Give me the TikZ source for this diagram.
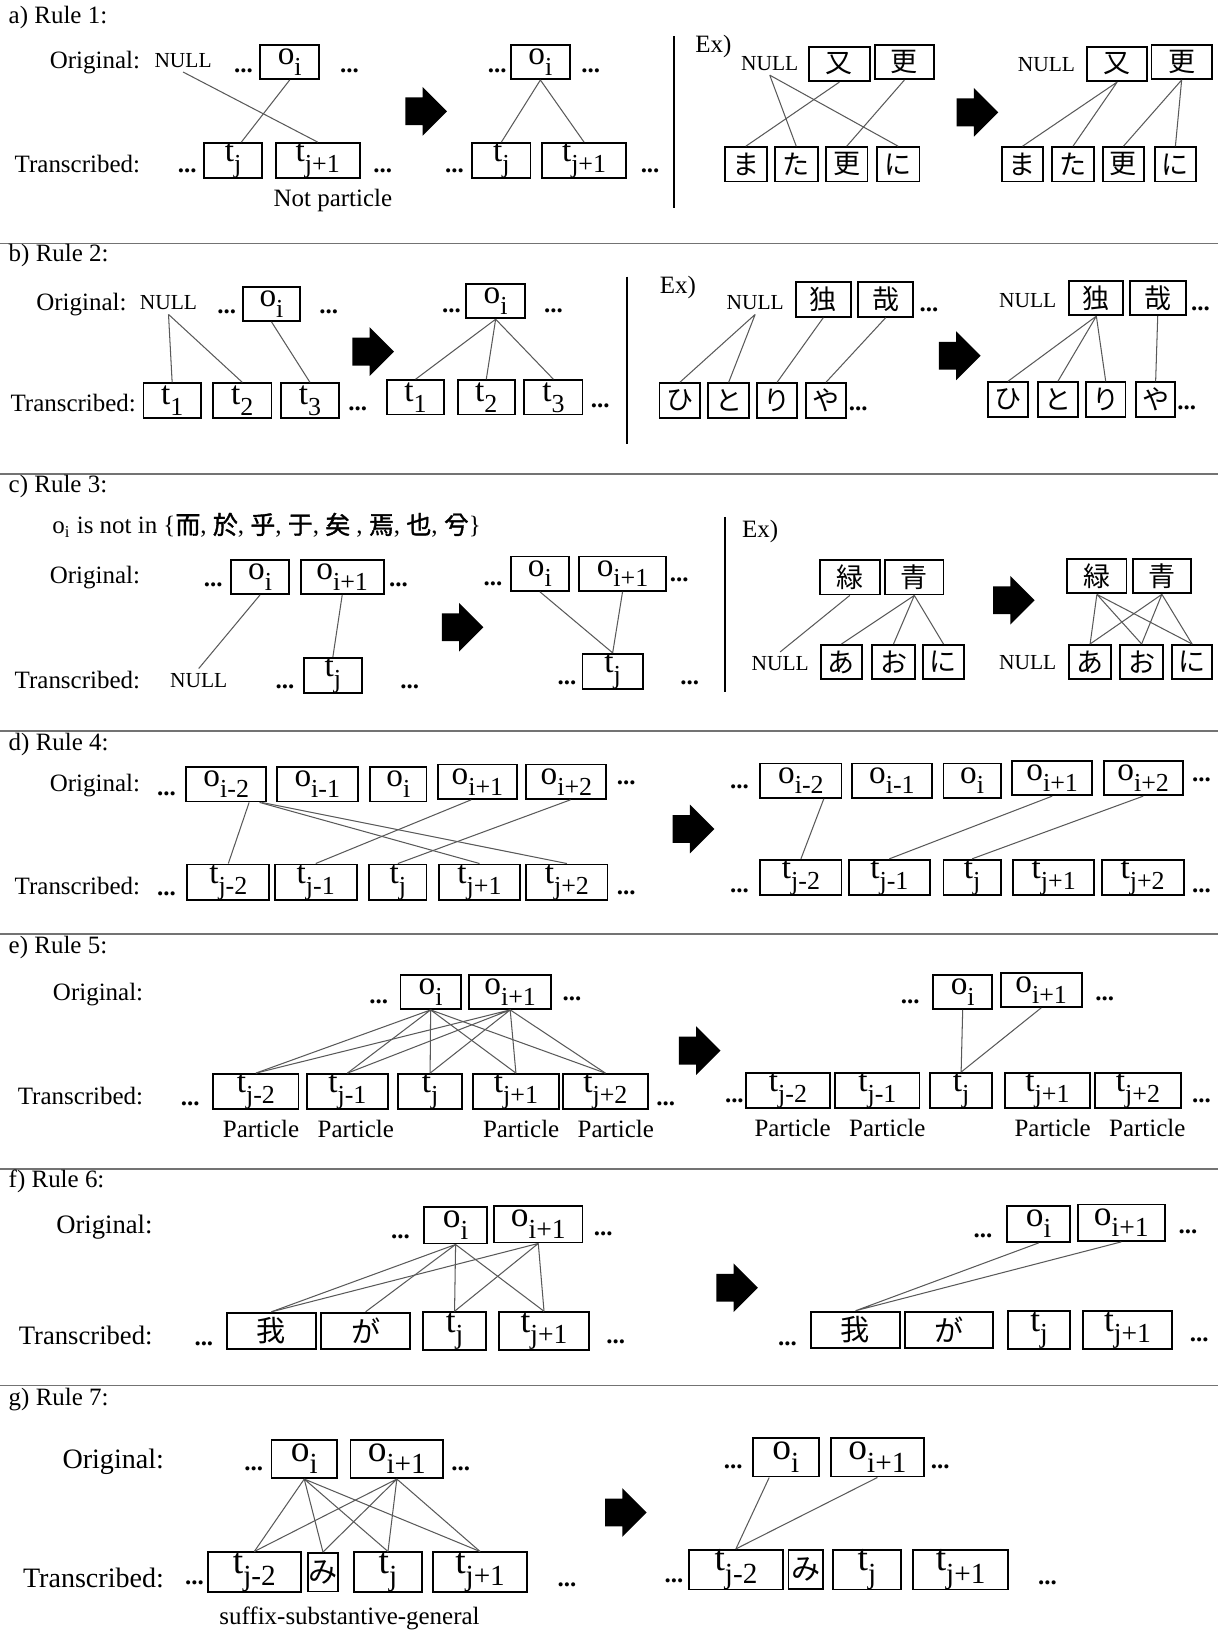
\documentclass[tikz,border=0pt]{standalone}
\usepackage{fontspec}
\setmainfont{Liberation Serif}
\newfontfamily\jpfont{Noto Sans CJK JP}
\newfontfamily\jpbold{Noto Sans CJK JP}[FakeBold=1.5]
\usetikzlibrary{shapes.arrows}

\makeatletter
\newcommand{\idx}[2]{#1\raisebox{-0.33em}{\fontsize{\strip@pt\dimexpr0.78\dimexpr\f@size pt\relax\relax}{1}\selectfont #2}}
\makeatother

\begin{document}
\begin{tikzpicture}[x=0.5pt, y=-0.5pt,
  tok/.style={draw, line width=0.9pt, minimum width=#1, minimum height=16.5pt, inner sep=0pt, font=\fontsize{16}{16}\selectfont},
  kana/.style={draw, line width=0.9pt, minimum width=#1, minimum height=16.5pt, inner sep=0pt, font=\jpfont\fontsize{13}{13}\selectfont},
  lbl/.style={inner sep=0pt, font=\fontsize{12}{14}\selectfont},
  ttl/.style={anchor=west, inner sep=0pt, font=\fontsize{12}{14}\selectfont},
  nul/.style={inner sep=2pt, font=\fontsize{10.3}{12}\selectfont},
  ellip/.style={inner sep=0pt, font=\fontsize{12}{12}\selectfont\bfseries},
  link/.style={draw=black!65, line width=0.5pt},
  bigarrow/.style={single arrow, fill=black, minimum height=20pt, inner xsep=0pt, inner ysep=6.5pt, single arrow head extend=5pt},
  rulebar/.style={draw=black!55, line width=0.8pt},
  vbar/.style={draw=black, line width=0.8pt}
]
\useasboundingbox (0,0) rectangle (1171,1568);

% a) Rule 1
\node[ttl] (ttlA) at (8,17) {a) Rule 1:};
\node[lbl, anchor=east] (origA) at (135,60) {Original:};
\node[lbl, anchor=east] (transA) at (135,158) {Transcribed:};
\node[nul] (alNull) at (176,58) {NULL};
\node[ellip] (alD1) at (234,68) {...};
\node[tok=28.5pt] (alOi) at (278.5,59.5) {\idx{o}{i}};
\node[ellip] (alD2) at (336,68) {...};
\node[ellip] (alD3) at (180,164) {...};
\node[tok=28pt] (alTj) at (224,154.5) {\idx{t}{j}};
\node[tok=40.5pt] (alTj1) at (305.5,154.5) {\idx{t}{j+1}};
\node[ellip] (alD4) at (368,164) {...};
\node[lbl] (notPart) at (320,193) {Not particle};
\draw[link] (alNull.south) -- (alTj1.north);
\draw[link] (alOi.south) -- ([xshift=4pt]alTj.north);
\node[bigarrow] (arrA) at (403,107) {};
\node[ellip] (arD1) at (478,68) {...};
\node[tok=28.5pt] (arOi) at (519.5,59.5) {\idx{o}{i}};
\node[ellip] (arD2) at (568,68) {...};
\node[ellip] (arD3) at (437,164) {...};
\node[tok=28pt] (arTj) at (482,154.5) {\idx{t}{j}};
\node[tok=40.5pt] (arTj1) at (561.5,154.5) {\idx{t}{j+1}};
\node[ellip] (arD4) at (625,164) {...};
\draw[link] (arOi.south) -- (arTj.north) (arOi.south) -- (arTj1.north);
\draw[vbar] (648,35) -- (648,200);

% a) example
\node[lbl, anchor=west] (axEx) at (668,45) {Ex)};
\node[nul] (axNull) at (740,61) {NULL};
\node[kana=29pt] (axMata) at (807,61.5) {又};
\node[kana=28.5pt] (axSara) at (869.5,59.5) {更};
\node[kana=20pt] (axMa) at (717,158) {ま};
\node[kana=20.5pt] (axTa) at (765.5,158) {た};
\node[kana=20pt] (axSa) at (814,158) {更};
\node[kana=20.5pt] (axNi) at (863.5,158) {に};
\draw[link] (axNull.south) -- (axTa.north) (axNull.south) -- (axNi.north);
\draw[link] (axMata.south) -- (axMa.north);
\draw[link] (axSara.south) -- (axSa.north);
\node[bigarrow] (arrAx) at (933,108) {};
\node[nul] (ayNull) at (1006,62) {NULL};
\node[kana=29pt] (ayMata) at (1074,61.5) {又};
\node[kana=29pt] (aySara) at (1136,59.5) {更};
\node[kana=20pt] (ayMa) at (983,158) {ま};
\node[kana=20.5pt] (ayTa) at (1031.5,158) {た};
\node[kana=20pt] (aySa) at (1080,158) {更};
\node[kana=20pt] (ayNi) at (1130,158) {に};
\draw[link] (ayMata.south) -- (ayMa.north) (ayMata.south) -- (ayTa.north);
\draw[link] (aySara.south) -- (aySa.north) (aySara.south) -- (ayNi.north);

\draw[rulebar] (0,234) -- (1171,234);

% b) Rule 2
\node[ttl] (ttlB) at (8,246) {b) Rule 2:};
\node[lbl, anchor=east] (origB) at (122,293) {Original:};
\node[lbl, anchor=east] (transB) at (131,387) {Transcribed:};
\node[nul] (blNull) at (162,291) {NULL};
\node[ellip] (blD1) at (218,300) {...};
\node[tok=27pt] (blOi) at (261,292) {\idx{o}{i}};
\node[ellip] (blD2) at (316,300) {...};
\node[tok=27.5pt] (blT1) at (165.5,385) {\idx{t}{1}};
\node[tok=28pt] (blT2) at (233,385) {\idx{t}{2}};
\node[tok=28pt] (blT3) at (298,385) {\idx{t}{3}};
\node[ellip] (blD3) at (344,393) {...};
\draw[link] (blNull.south) -- (blT1.north) (blNull.south) -- (blT2.north);
\draw[link] (blOi.south) -- (blT3.north);
\node[bigarrow] (arrB) at (352,338) {};
\node[ellip] (brD1) at (434,299) {...};
\node[tok=28.5pt] (brOi) at (476.5,289.5) {\idx{o}{i}};
\node[ellip] (brD2) at (532,299) {...};
\node[tok=27.5pt] (brT1) at (399.5,382) {\idx{t}{1}};
\node[tok=27.5pt] (brT2) at (467.5,382) {\idx{t}{2}};
\node[tok=28pt] (brT3) at (532,382) {\idx{t}{3}};
\node[ellip] (brD3) at (577,390) {...};
\draw[link] (brOi.south) -- (brT1.north) (brOi.south) -- (brT2.north) (brOi.south) -- (brT3.north);
\draw[vbar] (603,266) -- (603,427);

% b) example
\node[lbl, anchor=west] (bxEx) at (634,276) {Ex)};
\node[nul] (bxNull) at (726,291) {NULL};
\node[kana=26.5pt] (bxDoku) at (791.5,288) {独};
\node[kana=26.5pt] (bxKana) at (851.5,288) {哉};
\node[ellip] (bxD1) at (893,298) {...};
\node[kana=19.5pt] (bxHi) at (653.5,385) {ひ};
\node[kana=19.5pt] (bxTo) at (700.5,385) {と};
\node[kana=19pt] (bxRi) at (747,385) {り};
\node[kana=19pt] (bxYa) at (794,385) {や};
\node[ellip] (bxD2) at (825,393) {...};
\draw[link] (bxNull.south) -- (bxHi.north) (bxNull.south) -- (bxTo.north);
\draw[link] (bxDoku.south) -- (bxRi.north);
\draw[link] (bxKana.south) -- (bxYa.north);
\node[bigarrow] (arrBx) at (916,342) {};
\node[nul] (byNull) at (988,289) {NULL};
\node[kana=26pt] (byDoku) at (1054,286.5) {独};
\node[kana=27pt] (byKana) at (1113,286.5) {哉};
\node[ellip] (byD1) at (1154,297) {...};
\node[kana=19pt] (byHi) at (969,384) {ひ};
\node[kana=19pt] (byTo) at (1017,384) {と};
\node[kana=19pt] (byRi) at (1063,384) {り};
\node[kana=19pt] (byYa) at (1111,384) {や};
\node[ellip] (byD2) at (1141,392) {...};
\draw[link] (byDoku.south) -- (byHi.north) (byDoku.south) -- (byTo.north) (byDoku.south) -- (byRi.north);
\draw[link] (byKana.south) -- (byYa.north);

\draw[rulebar] (0,456) -- (1171,456);

% c) Rule 3
\node[ttl] (ttlC) at (8,468) {c) Rule 3:};
\node[lbl, anchor=west] (cCond) at (50,505) {o\textsubscript{i} is not in \{{\jpbold 而}, {\jpbold 於}, {\jpbold 乎}, {\jpbold 于}, {\jpbold 矣} , {\jpbold 焉}, {\jpbold 也}, {\jpbold 兮}\}};
\node[lbl, anchor=east] (origC) at (135,555) {Original:};
\node[lbl, anchor=east] (transC) at (135,654) {Transcribed:};
\node[ellip] (clD1) at (205,562) {...};
\node[tok=28pt] (clOi) at (250,554.5) {\idx{o}{i}};
\node[tok=40pt] (clOi1) at (329,554.5) {\idx{o}{i+1}};
\node[ellip] (clD2) at (383,562) {...};
\node[nul] (clNull) at (191,654) {NULL};
\node[ellip] (clD3) at (274,660) {...};
\node[tok=28pt] (clTj) at (320,649.5) {\idx{t}{j}};
\node[ellip] (clD4) at (394,660) {...};
\draw[link] (clOi.south) -- (clNull.north);
\draw[link] (clOi1.south) -- (clTj.north);
\node[bigarrow] (arrC) at (438,603) {};
\node[ellip] (crD1) at (474,561) {...};
\node[tok=28pt] (crOi) at (519,551.5) {\idx{o}{i}};
\node[tok=41.5pt] (crOi1) at (598.5,551.5) {\idx{o}{i+1}};
\node[ellip] (crD2) at (653,557) {...};
\node[ellip] (crD3) at (545,656) {...};
\node[tok=29pt] (crTj) at (589,645.5) {\idx{t}{j}};
\node[ellip] (crD4) at (663,656) {...};
\draw[link] (crOi.south) -- (crTj.north) (crOi1.south) -- (crTj.north);
\draw[vbar] (697,497) -- (697,665);

% c) example
\node[lbl, anchor=west] (cxEx) at (713,511) {Ex)};
\node[kana=29pt] (cxMidori) at (817,555) {緑};
\node[kana=28pt] (cxAo) at (879,555) {青};
\node[nul] (cxNull) at (750,638) {NULL};
\node[kana=20pt] (cxA) at (809,636.5) {あ};
\node[kana=21pt] (cxO) at (859,636.5) {お};
\node[kana=20pt] (cxNi) at (907,636.5) {に};
\draw[link] (cxMidori.south) -- (cxNull.north);
\draw[link] (cxAo.south) -- (cxA.north) (cxAo.south) -- (cxO.north) (cxAo.south) -- (cxNi.north);
\node[bigarrow] (arrCx) at (968,577) {};
\node[kana=28.5pt] (cyMidori) at (1054.5,554) {緑};
\node[kana=28pt] (cyAo) at (1117,554) {青};
\node[nul] (cyNull) at (988,637) {NULL};
\node[kana=20pt] (cyA) at (1048,636.5) {あ};
\node[kana=20.5pt] (cyO) at (1097.5,636.5) {お};
\node[kana=19pt] (cyNi) at (1146,636.5) {に};
\draw[link] (cyMidori.south) -- (cyA.north) (cyMidori.south) -- (cyO.north) (cyMidori.south) -- (cyNi.north);
\draw[link] (cyAo.south) -- (cyA.north) (cyAo.south) -- (cyO.north) (cyAo.south) -- (cyNi.north);

\draw[rulebar] (0,703) -- (1171,703);

% d) Rule 4
\node[ttl] (ttlD) at (8,716) {d) Rule 4:};
\node[lbl, anchor=east] (origD) at (135,755) {Original:};
\node[lbl, anchor=east] (transD) at (135,852) {Transcribed:};
\node[ellip] (dlD1) at (160,763) {...};
\node[tok=38.5pt] (dlOm2) at (217.5,754) {\idx{o}{i-2}};
\node[tok=39pt] (dlOm1) at (305,754) {\idx{o}{i-1}};
\node[tok=27pt] (dlOi) at (383,754) {\idx{o}{i}};
\node[tok=38pt] (dlOp1) at (459,751.5) {\idx{o}{i+1}};
\node[tok=38.5pt] (dlOp2) at (544.5,751.5) {\idx{o}{i+2}};
\node[ellip] (dlD2) at (602,753) {...};
\node[ellip] (dlD3) at (160,859) {...};
\node[tok=39.5pt] (dlTm2) at (219.5,848) {\idx{t}{j-2}};
\node[tok=39.5pt] (dlTm1) at (303.5,848) {\idx{t}{j-1}};
\node[tok=27.5pt] (dlTj) at (382.5,848) {\idx{t}{j}};
\node[tok=39pt] (dlTp1) at (461,848) {\idx{t}{j+1}};
\node[tok=39pt] (dlTp2) at (545,848) {\idx{t}{j+2}};
\node[ellip] (dlD4) at (602,858) {...};
\draw[link] ([xshift=11pt]dlOm2.south) -- (dlTm2.north);
\draw[link] ([xshift=16pt]dlOm2.south) -- (dlTp1.north);
\draw[link] ([xshift=17pt]dlOm2.south) -- (dlTp2.north);
\draw[link] ([xshift=-3pt]dlOp1.south) -- (dlTm1.north);
\draw[link] ([xshift=2pt]dlOp2.south) -- (dlTj.north);
\node[bigarrow] (arrD) at (660,797) {};
\node[ellip] (drD1) at (711,756) {...};
\node[tok=39pt] (drOm2) at (770,750.5) {\idx{o}{i-2}};
\node[tok=38.5pt] (drOm1) at (857.5,750.5) {\idx{o}{i-1}};
\node[tok=27.5pt] (drOi) at (934.5,750.5) {\idx{o}{i}};
\node[tok=38.5pt] (drOp1) at (1011.5,748) {\idx{o}{i+1}};
\node[tok=38pt] (drOp2) at (1099,748) {\idx{o}{i+2}};
\node[ellip] (drD2) at (1155,750) {...};
\node[ellip] (drD3) at (711,856) {...};
\node[tok=39pt] (drTm2) at (770,843.5) {\idx{t}{j-2}};
\node[tok=39pt] (drTm1) at (855,843.5) {\idx{t}{j-1}};
\node[tok=27.5pt] (drTj) at (934.5,843.5) {\idx{t}{j}};
\node[tok=39pt] (drTp1) at (1013,843.5) {\idx{t}{j+1}};
\node[tok=39.5pt] (drTp2) at (1098.5,843.5) {\idx{t}{j+2}};
\node[ellip] (drD4) at (1155,856) {...};
\draw[link] ([xshift=11pt]drOm2.south) -- (drTm2.north);
\draw[link] (drOp1.south) -- (drTm1.north);
\draw[link] (drOp2.south) -- (drTj.north);

\draw[rulebar] (0,898) -- (1171,898);

% e) Rule 5
\node[ttl] (ttlE) at (8,911) {e) Rule 5:};
\node[lbl, anchor=east] (origE) at (138,956) {Original:};
\node[lbl, anchor=east] (transE) at (138,1054) {Transcribed:};
\node[ellip] (elD1) at (364,963) {...};
\node[tok=29pt] (elOi) at (414,953.5) {\idx{o}{i}};
\node[tok=39.5pt] (elOi1) at (490.5,953.5) {\idx{o}{i+1}};
\node[ellip] (elD2) at (550,960) {...};
\node[ellip] (elD3) at (183,1061) {...};
\node[tok=41pt] (elTm2) at (246,1049.5) {\idx{t}{j-2}};
\node[tok=39pt] (elTm1) at (334,1049.5) {\idx{t}{j-1}};
\node[tok=30.5pt] (elTj) at (413.5,1049.5) {\idx{t}{j}};
\node[tok=41pt] (elTp1) at (496,1049.5) {\idx{t}{j+1}};
\node[tok=41pt] (elTp2) at (582,1049.5) {\idx{t}{j+2}};
\node[ellip] (elD4) at (640,1061) {...};
\node[lbl] (elP1) at (251,1085) {Particle};
\node[lbl] (elP2) at (342,1085) {Particle};
\node[lbl] (elP3) at (501,1085) {Particle};
\node[lbl] (elP4) at (592,1085) {Particle};
\draw[link] (elOi.south) -- (elTm2.north) (elOi.south) -- (elTm1.north) (elOi.south) -- (elTj.north) (elOi.south) -- (elTp1.north) (elOi.south) -- (elTp2.north);
\draw[link] (elOi1.south) -- (elTm2.north) (elOi1.south) -- (elTm1.north) (elOi1.south) -- (elTj.north) (elOi1.south) -- (elTp1.north) (elOi1.south) -- (elTp2.north);
\node[bigarrow] (arrE) at (666,1010) {};
\node[ellip] (erD1) at (875,963) {...};
\node[tok=28.5pt] (erOi) at (925.5,953.5) {\idx{o}{i}};
\node[tok=39pt] (erOi1) at (1001,951.5) {\idx{o}{i+1}};
\node[ellip] (erD2) at (1062,960) {...};
\node[ellip] (erD3) at (706,1058) {...};
\node[tok=40.5pt] (erTm2) at (757.5,1048.5) {\idx{t}{j-2}};
\node[tok=40.5pt] (erTm1) at (843.5,1048.5) {\idx{t}{j-1}};
\node[tok=30pt] (erTj) at (924,1048.5) {\idx{t}{j}};
\node[tok=41pt] (erTp1) at (1007,1048.5) {\idx{t}{j+1}};
\node[tok=41pt] (erTp2) at (1094,1048.5) {\idx{t}{j+2}};
\node[ellip] (erD4) at (1155,1058) {...};
\node[lbl] (erP1) at (762,1084) {Particle};
\node[lbl] (erP2) at (853,1084) {Particle};
\node[lbl] (erP3) at (1012,1084) {Particle};
\node[lbl] (erP4) at (1103,1084) {Particle};
\draw[link] (erOi.south) -- (erTj.north) (erOi1.south) -- (erTj.north);

\draw[rulebar] (0,1124) -- (1171,1124);

% f) Rule 6
\begin{scope}[tok/.append style={minimum height=17.5pt, font=\fontsize{17}{17}\selectfont},
  kana/.append style={minimum height=17.5pt, font=\jpfont\fontsize{14}{14}\selectfont},
  lbl/.append style={font=\fontsize{12.8}{15}\selectfont}]
\node[ttl] (ttlF) at (8,1136) {f) Rule 6:};
\node[lbl, anchor=east] (origF) at (147,1180) {Original:};
\node[lbl, anchor=east] (transF) at (147,1284) {Transcribed:};
\node[ellip] (flD1) at (385,1189) {...};
\node[tok=30pt] (flOi) at (438,1178) {\idx{o}{i}};
\node[tok=42.5pt] (flOi1) at (517.5,1177) {\idx{o}{i+1}};
\node[ellip] (flD2) at (580,1186) {...};
\node[ellip] (flD3) at (196,1292) {...};
\node[kana=43pt] (flWa) at (261,1279.5) {我};
\node[kana=42.5pt] (flGa) at (351.5,1279.5) {が};
\node[tok=30pt] (flTj) at (437,1279.5) {\idx{t}{j}};
\node[tok=43pt] (flTj1) at (523,1279.5) {\idx{t}{j+1}};
\node[ellip] (flD4) at (592,1290) {...};
\draw[link] (flOi.south) -- (flWa.north) (flOi.south) -- (flGa.north) (flOi.south) -- (flTj.north) (flOi.south) -- (flTj1.north);
\draw[link] (flOi1.south) -- (flWa.north) (flOi1.south) -- (flTj.north) (flOi1.south) -- (flTj1.north);
\node[bigarrow] (arrF) at (702,1238) {};
\node[ellip] (frD1) at (945,1188) {...};
\node[tok=30.5pt] (frOi) at (998.5,1176.5) {\idx{o}{i}};
\node[tok=42pt] (frOi1) at (1078,1175.5) {\idx{o}{i+1}};
\node[ellip] (frD2) at (1142,1184) {...};
\node[ellip] (frD3) at (757,1292) {...};
\node[kana=42.5pt] (frWa) at (822.5,1278.5) {我};
\node[kana=42.5pt] (frGa) at (912.5,1278.5) {が};
\node[tok=30pt] (frTj) at (999,1278.5) {\idx{t}{j}};
\node[tok=43pt] (frTj1) at (1084,1278.5) {\idx{t}{j+1}};
\node[ellip] (frD4) at (1153,1288) {...};
\draw[link] (frOi.south) -- (frWa.north) (frOi1.south) -- (frWa.north);
\end{scope}

\draw[rulebar] (0,1332) -- (1171,1332);

% g) Rule 7
\begin{scope}[tok/.append style={minimum height=18.5pt, font=\fontsize{18}{18}\selectfont},
  kana/.append style={minimum height=18.5pt, font=\jpfont\fontsize{14}{14}\selectfont},
  lbl/.append style={font=\fontsize{13.5}{16}\selectfont}]
\node[ttl] (ttlG) at (8,1345) {g) Rule 7:};
\node[lbl, anchor=east] (origG) at (158,1405) {Original:};
\node[lbl, anchor=east] (transG) at (158,1517) {Transcribed:};
\node[ellip] (glD1) at (244,1412) {...};
\node[tok=31.5pt] (glOi) at (292.5,1402.5) {\idx{o}{i}};
\node[tok=44.5pt] (glOi1) at (381.5,1402.5) {\idx{o}{i+1}};
\node[ellip] (glD2) at (443,1412) {...};
\node[ellip] (glD3) at (187,1522) {...};
\node[tok=44.5pt] (glTm2) at (244.5,1511.5) {\idx{t}{j-2}};
\node[kana=14.5pt] (glMi) at (310.5,1511.5) {み};
\node[tok=33pt] (glTj) at (373,1511.5) {\idx{t}{j}};
\node[tok=45.5pt] (glTj1) at (461.5,1511.5) {\idx{t}{j+1}};
\node[ellip] (glD4) at (545,1524) {...};
\node[lbl, font=\fontsize{12}{14}\selectfont] (suffix) at (336,1556) {suffix-substantive-general};
\draw[link] (glOi.south) -- (glTm2.north) (glOi.south) -- (glMi.north) (glOi.south) -- (glTj.north) (glOi.south) -- (glTj1.north);
\draw[link] (glOi1.south) -- (glTm2.north) (glOi1.south) -- (glMi.north) (glOi1.south) -- (glTj.north) (glOi1.south) -- (glTj1.north);
\node[bigarrow] (arrG) at (595,1454) {};
\node[ellip] (grD1) at (705,1410) {...};
\node[tok=31.5pt] (grOi) at (755.5,1401) {\idx{o}{i}};
\node[tok=44.5pt] (grOi1) at (843.5,1401) {\idx{o}{i+1}};
\node[ellip] (grD2) at (904,1410) {...};
\node[ellip] (grD3) at (648,1520) {...};
\node[tok=45.5pt] (grTm2) at (707.5,1509) {\idx{t}{j-2}};
\node[kana=16.5pt] (grMi) at (774.5,1509) {み};
\node[tok=32.5pt] (grTj) at (833.5,1509) {\idx{t}{j}};
\node[tok=45.5pt] (grTj1) at (923.5,1509) {\idx{t}{j+1}};
\node[ellip] (grD4) at (1007,1522) {...};
\draw[link] ([xshift=-8pt]grOi.south) -- (grTm2.north);
\draw[link] (grOi1.south) -- (grTm2.north);
\end{scope}
\end{tikzpicture}
\end{document}
